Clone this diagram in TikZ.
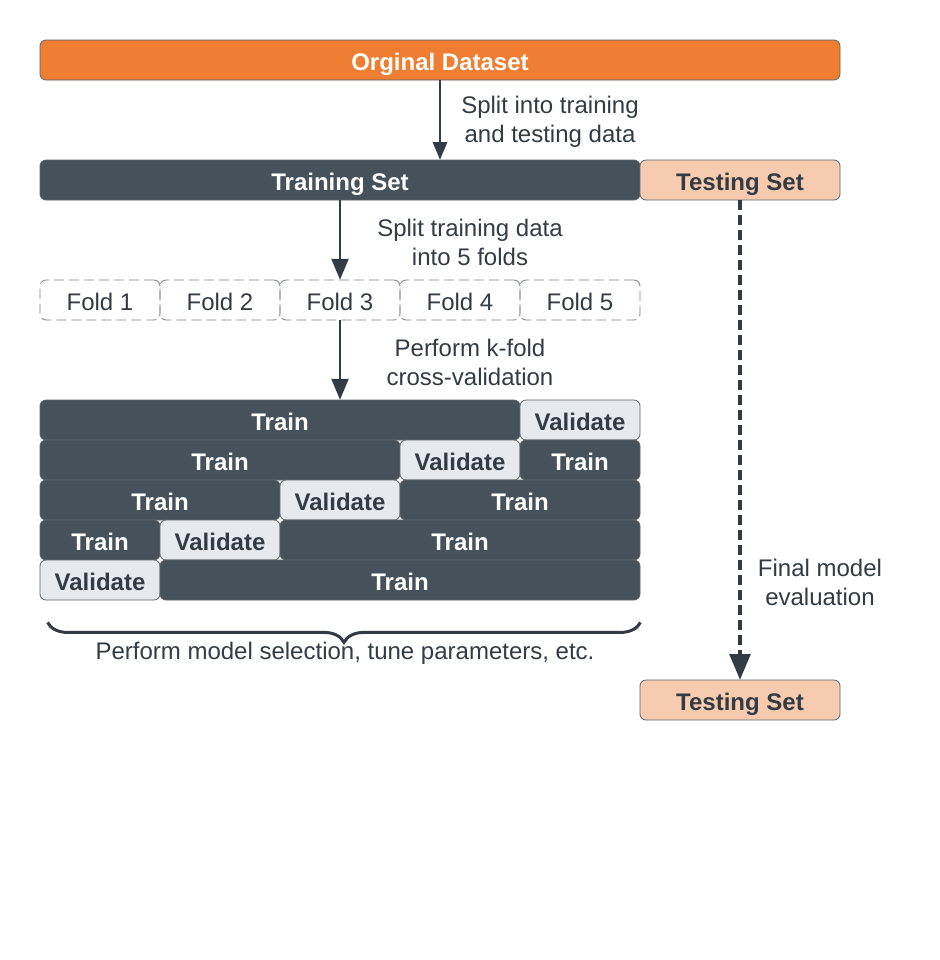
\documentclass[tikz,border=0pt]{standalone}
\usepackage{fontspec}
\setmainfont{Liberation Sans}
\usepackage{tikz}
\usetikzlibrary{arrows,decorations.pathreplacing}
\definecolor{dsorange}{HTML}{F07E32}
\definecolor{slate}{HTML}{45525C}
\definecolor{peach}{HTML}{F6CBAF}
\definecolor{paleval}{HTML}{E6EAEF}
\definecolor{ink}{HTML}{333B44}
\tikzstyle{es} = [-triangle 45]
\tikzstyle{box} = [draw=ink!80, rounded corners=3pt, minimum height=20pt, inner sep=0pt, text height=10.4pt, text depth=0pt, font=\fontsize{12}{14.5}\selectfont\bfseries]
\tikzstyle{trainbox} = [box, fill=slate, text=white]
\tikzstyle{valbox} = [box, fill=paleval, text=ink]
\tikzstyle{testbox} = [box, fill=peach, text=ink, minimum width=100pt]
\tikzstyle{foldbox} = [draw=ink!65, dash pattern=on 5pt off 2.5pt, rounded corners=3pt, minimum width=60pt, minimum height=20pt, inner sep=0pt, text height=10.4pt, text depth=0pt, text=ink, font=\fontsize{12}{14.5}\selectfont]
\tikzstyle{note} = [align=center, text=ink, font=\fontsize{12}{14.5}\selectfont]

\begin{document}
\begin{tikzpicture}[x=0.5pt,y=-0.5pt]
			\useasboundingbox (0,0) rectangle (940,960);
			\node[box, fill=dsorange, text=white, minimum width=400pt] (orig) at (440,60) {Orginal Dataset};
			\node[trainbox, minimum width=300pt] (trainset) at (340,180) {Training Set};
			\node[testbox] (testtop) at (740,180) {Testing Set};
			\node[testbox] (testbottom) at (740,700) {Testing Set};
			\node[foldbox] (fold1) at (100,300) {Fold 1};
			\node[foldbox] (fold2) at (220,300) {Fold 2};
			\node[foldbox] (fold3) at (340,300) {Fold 3};
			\node[foldbox] (fold4) at (460,300) {Fold 4};
			\node[foldbox] (fold5) at (580,300) {Fold 5};
			% row 1
			\node[trainbox, minimum width=240pt] (tr1) at (280,420) {Train};
			\node[valbox, minimum width=60pt] (va1) at (580,420) {Validate};
			% row 2
			\node[trainbox, minimum width=180pt] (tr2a) at (220,460) {Train};
			\node[valbox, minimum width=60pt] (va2) at (460,460) {Validate};
			\node[trainbox, minimum width=60pt] (tr2b) at (580,460) {Train};
			% row 3
			\node[trainbox, minimum width=120pt] (tr3a) at (160,500) {Train};
			\node[valbox, minimum width=60pt] (va3) at (340,500) {Validate};
			\node[trainbox, minimum width=120pt] (tr3b) at (520,500) {Train};
			% row 4
			\node[trainbox, minimum width=60pt] (tr4a) at (100,540) {Train};
			\node[valbox, minimum width=60pt] (va4) at (220,540) {Validate};
			\node[trainbox, minimum width=180pt] (tr4b) at (460,540) {Train};
			% row 5
			\node[valbox, minimum width=60pt] (va5) at (100,580) {Validate};
			\node[trainbox, minimum width=240pt] (tr5) at (400,580) {Train};
			% labels
			\node[note] (splitnote) at (550,122) {Split into training\\and testing data};
			\node[note] (foldnote) at (470,242) {Split training data\\into 5 folds};
			\node[note] (cvnote) at (470,362) {Perform k-fold\\cross-validation};
			\node[note] (evalnote) at (820,582) {Final model\\evaluation};
			\node[note] (selnote) at (345,653) {Perform model selection, tune parameters, etc.};
			% connectors
			\draw[es, ink, line width=1pt] (orig.south) -- (orig.south |- trainset.north);
			\draw[es, ink, line width=1.4pt] (trainset.south) -- (fold3.north);
			\draw[es, ink, line width=1.4pt] (fold3.south) -- (fold3.south |- tr1.north);
			\draw[es, ink, line width=2pt, dash pattern=on 5pt off 2.5pt] (testtop.south) -- (testbottom.north);
			\draw[ink, line width=1.5pt, decorate, decoration={brace, mirror, amplitude=10pt}] (va5.south west) ++(8,22) coordinate (bl) -- (tr5.south east |- bl);
		\end{tikzpicture}
\end{document}
